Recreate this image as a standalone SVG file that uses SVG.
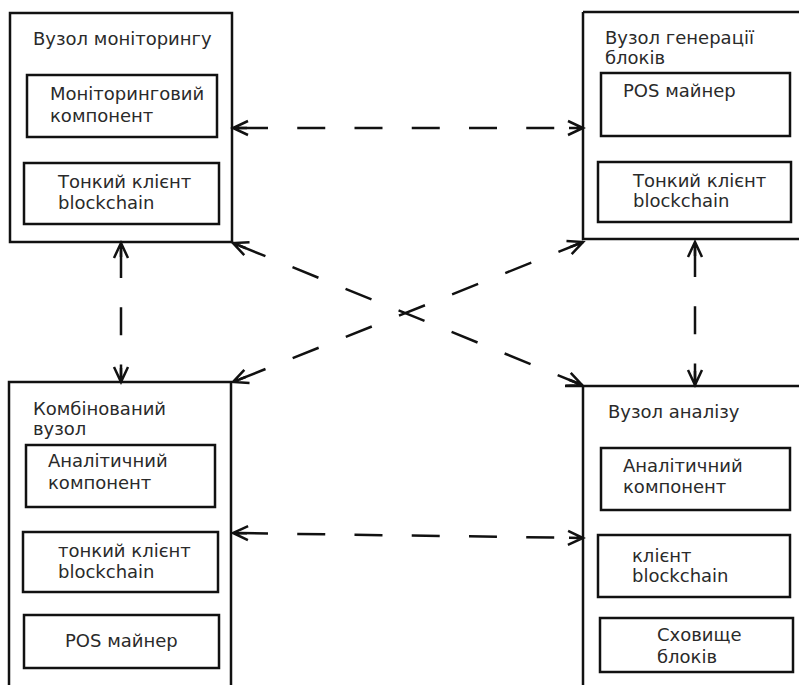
<svg xmlns="http://www.w3.org/2000/svg" width="799" height="685" viewBox="0 0 799 685">
<style>
.frame{fill:none;stroke:#111;stroke-width:2.5}
.box{fill:none;stroke:#111;stroke-width:2.5}
.t{font-family:"DejaVu Sans","Noto Sans",sans-serif;font-size:18px;fill:#2a2a2a}
.conn{fill:none;stroke:#111;stroke-width:2.5;stroke-dasharray:28 29.25;stroke-dashoffset:50.25;marker-start:url(#ah);marker-end:url(#ah)}
</style>
<defs>
<marker id="ah" markerUnits="userSpaceOnUse" orient="auto-start-reverse" refX="0" refY="0" markerWidth="20" markerHeight="20" overflow="visible">
<path d="M-15,-7 L0,0 L-15,7 M0,0 L-14,0" fill="none" stroke="#111" stroke-width="2.5" stroke-dasharray="none"/>
</marker>
</defs>
<rect width="799" height="685" fill="#fff"/>

<g id="node-monitoring">
<rect class="frame" x="10" y="13" width="222" height="229"/>
<text class="t" x="33" y="45">Вузол моніторингу</text>
<rect class="box" x="27" y="75" width="190" height="62"/>
<text class="t" x="50" y="100">Моніторинговий</text>
<text class="t" x="50" y="122">компонент</text>
<rect class="box" x="24" y="163" width="195" height="61"/>
<text class="t" x="58" y="188">Тонкий клієнт</text>
<text class="t" x="58" y="209">blockchain</text>
</g>

<g id="node-generation">
<path class="frame" d="M583,12 H810 M583,12 V239 H810"/>
<text class="t" x="605" y="44">Вузол генерації</text>
<text class="t" x="605" y="64">блоків</text>
<rect class="box" x="601" y="73" width="189" height="63"/>
<text class="t" x="623" y="97">POS майнер</text>
<rect class="box" x="598" y="162" width="193" height="60"/>
<text class="t" x="633" y="187">Тонкий клієнт</text>
<text class="t" x="633" y="207">blockchain</text>
</g>

<g id="node-combined">
<path class="frame" d="M9,690 V382 H231 V690"/>
<text class="t" x="33" y="415">Комбінований</text>
<text class="t" x="33" y="435">вузол</text>
<rect class="box" x="26" y="445" width="189" height="62"/>
<text class="t" x="48" y="467">Аналітичний</text>
<text class="t" x="48" y="489">компонент</text>
<rect class="box" x="23" y="532" width="195" height="60"/>
<text class="t" x="58" y="557">тонкий клієнт</text>
<text class="t" x="58" y="578">blockchain</text>
<rect class="box" x="24" y="615" width="195" height="53"/>
<text class="t" x="65" y="647">POS майнер</text>
</g>

<g id="node-analysis">
<path class="frame" d="M565,386 H810 M583,386 V690"/>
<text class="t" x="608" y="418">Вузол аналізу</text>
<rect class="box" x="601" y="448" width="189" height="62"/>
<text class="t" x="623" y="472">Аналітичний</text>
<text class="t" x="623" y="493">компонент</text>
<rect class="box" x="598" y="535" width="192" height="62"/>
<text class="t" x="632" y="562">клієнт</text>
<text class="t" x="632" y="582">blockchain</text>
<rect class="box" x="600" y="618" width="193" height="54"/>
<text class="t" x="657" y="641">Сховище</text>
<text class="t" x="657" y="663">блоків</text>
</g>

<g id="connectors">
<line class="conn" x1="233" y1="128" x2="583" y2="128"/>
<line class="conn" x1="233" y1="533" x2="583" y2="538"/>
<line class="conn" x1="233" y1="243" x2="582" y2="385"/>
<line class="conn" x1="233" y1="382" x2="583" y2="242"/>
<line class="conn" x1="121" y1="243" x2="121" y2="382"/>
<line class="conn" x1="695" y1="242" x2="695" y2="385"/>
</g>
</svg>
